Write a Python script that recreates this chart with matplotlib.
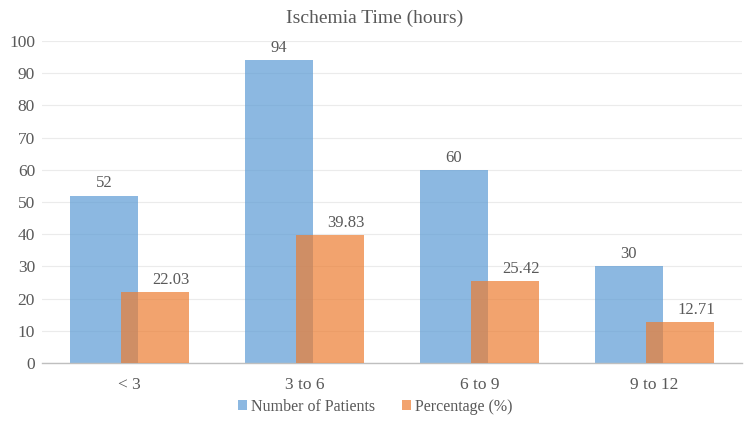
import matplotlib
matplotlib.use("Agg")
import matplotlib.pyplot as plt
import numpy as np

categories = ["< 3", "3 to 6", "6 to 9", "9 to 12"]
patients = [52, 94, 60, 30]
percentage = [22.03, 39.83, 25.42, 12.71]
yticks = list(range(0, 101, 10))

plt.rcParams['font.family'] = ['Liberation Serif', 'DejaVu Serif']
txt = '#595959'

fig = plt.figure(figsize=(7.5, 4.22), dpi=100)
ax = fig.add_axes([42/750, 1-363/422, 700/750, (363-41)/422])

x = np.arange(len(categories))
w = 0.39
off = 0.147
b1 = ax.bar(x - off, patients, w, color='#5B9BD5', alpha=0.7, label='Number of Patients', zorder=2)
b2 = ax.bar(x + off, percentage, w, color='#ED7D31', alpha=0.7, label='Percentage (%)', zorder=3)

for xi, v in zip(x - off, patients):
    ax.text(xi, v + 1.3, f"{v}", ha='center', va='bottom', fontsize=12, color=txt)
for xi, v in zip(x + off, percentage):
    ax.text(xi + 0.09, v + 1.3, f"{v:.2f}", ha='center', va='bottom', fontsize=12, color=txt)

ax.set_xlim(-0.5, len(categories) - 0.5)
ax.set_ylim(0, 100)
ax.set_yticks(yticks)
ax.set_xticks(x)
ax.set_xticklabels(categories)
ax.tick_params(axis='both', length=0, labelsize=12.5, colors=txt)
ax.tick_params(axis='x', pad=10)
ax.tick_params(axis='y', pad=5)
ax.yaxis.grid(True, color='#EBEBEB', linewidth=0.8, zorder=0)
ax.set_axisbelow(True)
for s in ['top', 'right', 'left']:
    ax.spines[s].set_visible(False)
ax.spines['bottom'].set_color('#BFBFBF')
ax.spines['bottom'].set_linewidth(1)

fig.text(0.5, 1-18/422, "Ischemia Time (hours)", ha='center', va='center', fontsize=14, color=txt)

fig.legend(handles=[b1, b2], loc='center', bbox_to_anchor=(0.5, 1-407/422), ncol=2, frameon=False,
           fontsize=11.5, handlelength=0.6, handleheight=0.6, handletextpad=0.2, columnspacing=1.7,
           labelcolor=txt)

fig.savefig("out.png", dpi=100)
